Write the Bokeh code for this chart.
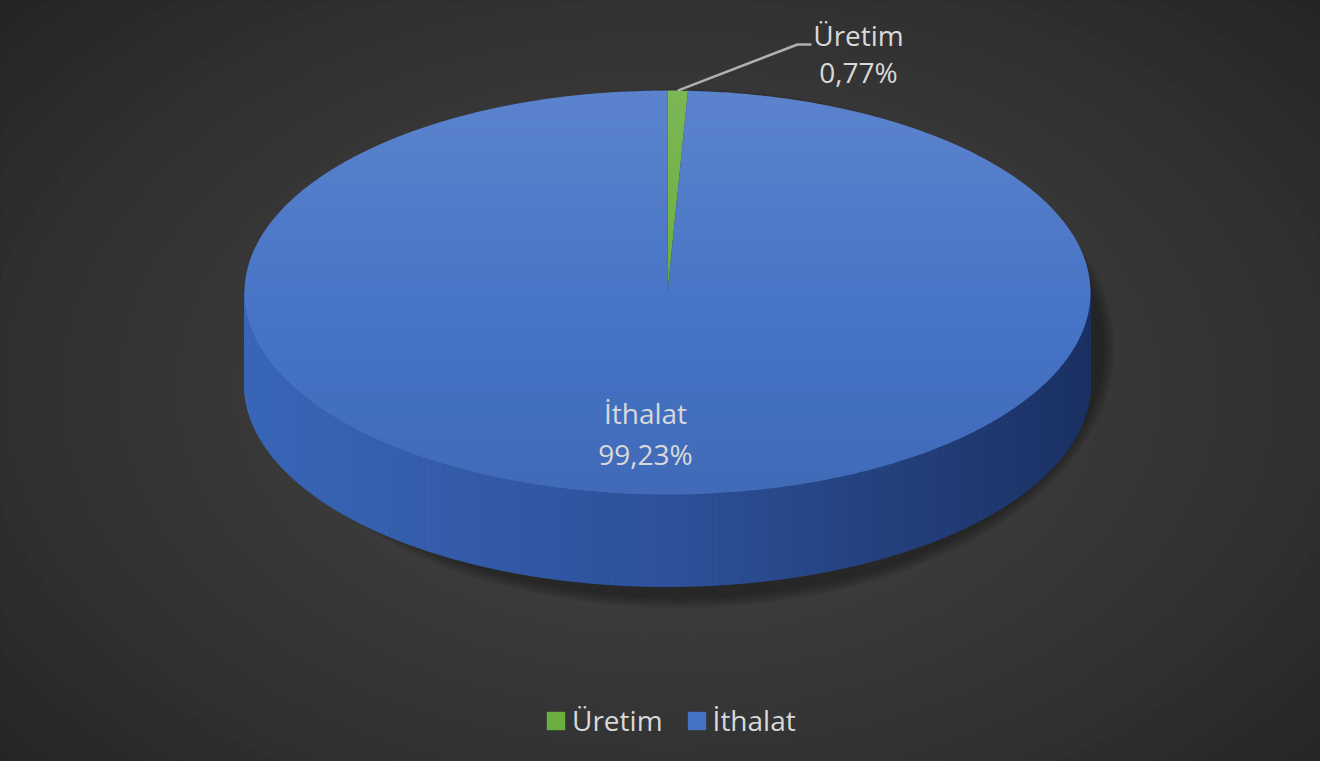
import numpy as np
from bokeh.plotting import figure
from bokeh.models import Range1d, Legend, LegendItem, ColumnDataSource
from bokeh.core.properties import value
from bokeh.embed import file_html
from bokeh.resources import INLINE

# ---- data ----
categories = ["Üretim", "İthalat"]
shares = [0.77, 99.23]
share_labels = ["0,77%", "99,23%"]
colors = ["#6aae3f", "#4673c6"]

# ---- layout ----
W, H = 1320, 761
FONT = "Open Sans"
TXT = "#d9d9d9"


def Y(py):
    return 778 - py


def hexmix(c1, c2, t):
    a = [int(c1[i:i + 2], 16) for i in (1, 3, 5)]
    b = [int(c2[i:i + 2], 16) for i in (1, 3, 5)]
    return "#%02x%02x%02x" % tuple(int(round(a[k] + (b[k] - a[k]) * t)) for k in range(3))


p = figure(width=W, height=H, x_range=Range1d(0, W), y_range=Range1d(778 - H, 778),
           output_backend="svg", toolbar_location=None, min_border=0,
           x_axis_type=None, y_axis_type=None)
p.grid.visible = False
p.outline_line_color = None
p.background_fill_color = "#262626"
p.border_fill_color = "#262626"

# background radial gradient
N = 40
for k in range(N):
    s = 1.15 * (1 - k / N)
    t = min(1.0, s / 0.9) ** 1.5
    p.ellipse(x=668, y=Y(390), width=s * 2000, height=s * 1300,
              fill_color=hexmix("#424242", "#252525", t), line_color=None)

# pie geometry
cx, cy = 667, Y(292)
rx, ry = 423, 202
depth = 92

fr = np.array(shares, dtype=float) / sum(shares)
cum = np.concatenate([[0.0], np.cumsum(fr)])
starts = 90 - 360 * cum[:-1]
ends = 90 - 360 * cum[1:]

# shadow (to the lower right)
for g in range(12, 0, -2):
    p.ellipse(x=cx + 12, y=cy - depth / 2 - 10, width=2 * rx + 2 * g, height=2 * ry + depth + 2 * g,
              fill_color="black", fill_alpha=0.06, line_color=None)

# side walls (front-facing part of each slice)
side_xs, side_ys, side_cols = [], [], []
for i in range(len(shares)):
    lo, hi = ends[i], starts[i]
    for off in (-720, -360, 0, 360):
        a, b = max(lo, -180 + off), min(hi, 0 + off)
        if b <= a:
            continue
        M = max(2, int((b - a) / 1.0))
        edges = np.linspace(a, b, M + 1)
        for j in range(M):
            tt = np.radians(np.linspace(edges[j], edges[j + 1], 4))
            xt = cx + rx * np.cos(tt)
            yt = cy + ry * np.sin(tt)
            xs = list(xt) + list(xt[::-1])
            ys = list(yt) + list((yt - depth)[::-1])
            xm = (xt.mean() - (cx - rx)) / (2 * rx)
            if i == 1:
                col = hexmix("#3a66b8", "#2d519a", xm / 0.5) if xm < 0.5 else hexmix("#2d519a", "#1b3163", (xm - 0.5) / 0.5)
            else:
                col = hexmix("#5e9a37", "#3e6a22", xm)
            side_xs.append(xs); side_ys.append(ys); side_cols.append(col)
p.patches(xs=side_xs, ys=side_ys, fill_color=side_cols, line_color=side_cols, line_width=1)

# top faces (sectors)
sx, sy = [], []
for i in range(len(shares)):
    n = max(3, int(abs(starts[i] - ends[i]) * 2))
    tt = np.radians(np.linspace(starts[i], ends[i], n))
    sx.append([cx] + list(cx + rx * np.cos(tt)))
    sy.append([cy] + list(cy + ry * np.sin(tt)))
src = ColumnDataSource(dict(xs=sx, ys=sy, color=colors, cat=categories))
pie = p.patches(xs="xs", ys="ys", fill_color="color", line_color=None, source=src)

# lighting overlay on the top face
B = 50
ov_xs, ov_ys, ov_cols, ov_alpha = [], [], [], []
ylev = np.linspace(cy + ry, cy - ry, B + 1)
for k in range(B):
    yy = np.linspace(ylev[k], ylev[k + 1], 5)
    w = rx * np.sqrt(np.clip(1 - ((yy - cy) / ry) ** 2, 0, 1))
    ov_xs.append(list(cx - w) + list((cx + w)[::-1]))
    ov_ys.append(list(yy) + list(yy[::-1]))
    f = (k + 0.5) / B
    if f < 0.6:
        ov_cols.append("white"); ov_alpha.append(0.12 * (1 - f / 0.6))
    else:
        ov_cols.append("black"); ov_alpha.append(0.07 * (f - 0.6) / 0.4)
p.patches(xs=ov_xs, ys=ov_ys, fill_color=ov_cols, fill_alpha=ov_alpha, line_color=None)

# leader line for the small slice
tm = np.radians((starts[0] + ends[0]) / 2)
lx0, ly0 = cx + rx * np.cos(tm), cy + ry * np.sin(tm)
p.line(x=[lx0, 797, 811], y=[ly0, Y(44), Y(44)], line_color="#b0b0b0", line_width=2.5)

# data labels
lab_x = [858, 645]
lab_y1 = [Y(34), Y(412)]
lab_y2 = [Y(71), Y(453)]
p.text(x=lab_x, y=lab_y1, text=categories, text_color=TXT, text_font=value(FONT),
       text_font_size="28px", text_align="center", text_baseline="middle")
p.text(x=lab_x, y=lab_y2, text=share_labels, text_color=TXT, text_font=value(FONT),
       text_font_size="28px", text_align="center", text_baseline="middle")

# legend
items = [LegendItem(label=categories[i], renderers=[pie], index=i) for i in range(len(categories))]
legend = Legend(items=items, orientation="horizontal", location=(544, 22),
                glyph_width=23, glyph_height=23, label_standoff=5, spacing=22,
                padding=0, margin=0, border_line_alpha=0, background_fill_alpha=0,
                label_text_color=TXT, label_text_font=FONT, label_text_font_size="28px")
p.add_layout(legend, "center")

open("out.html", "w").write(file_html(p, INLINE))
